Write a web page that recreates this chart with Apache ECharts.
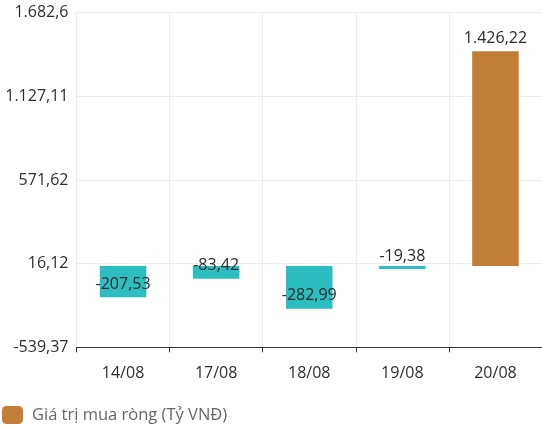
<!DOCTYPE html>
<html>
<head>
<meta charset="utf-8">
<script src="https://cdn.jsdelivr.net/npm/echarts@6/dist/echarts.min.js"></script>
<style>html,body{margin:0;padding:0;background:#fff}#c{width:542px;height:428px}</style>
</head>
<body>
<div id="c"></div>
<script>
const categories = ['14/08', '17/08', '18/08', '19/08', '20/08'];
const values = [-207.53, -83.42, -282.99, -19.38, 1426.22];
const yTicks = [-539.37, 16.12, 571.62, 1127.11, 1682.6];
const seriesName = 'Giá trị mua ròng (Tỷ VNĐ)';

const POS = '#c07e36', NEG = '#2cbdc0';
const FONT = '"Open Sans", "Noto Sans", sans-serif';

function vn(v) {
  const neg = v < 0;
  let s = Math.abs(v).toFixed(2).replace(/0+$/, '').replace(/\.$/, '');
  let parts = s.split('.');
  let i = parts[0].replace(/\B(?=(\d{3})+(?!\d))/g, '.');
  return (neg ? '-' : '') + i + (parts[1] ? ',' + parts[1] : '');
}

const data = values.map(v => ({
  value: v,
  itemStyle: { color: v < 0 ? NEG : POS },
  label: { position: v < 0 ? 'insideBottom' : 'top' }
}));

const chart = echarts.init(document.getElementById('c'), null, { renderer: 'canvas' });
chart.setOption({
  animation: false,
  textStyle: { fontFamily: FONT },
  grid: { left: 76.5, right: -2.5, top: 12.7, bottom: 80.7 },
  legend: {
    left: -3, top: 401,
    itemWidth: 21, itemHeight: 18,
    icon: 'roundRect',
    textStyle: { fontFamily: FONT, fontSize: 16.5, color: '#666', padding: [0, 0, 0, 4] },
    data: [seriesName]
  },
  xAxis: {
    type: 'category',
    data: categories,
    axisLine: { onZero: false, lineStyle: { color: '#333', width: 1 } },
    axisTick: { show: true, length: 5, lineStyle: { color: '#333' } },
    axisLabel: { fontFamily: FONT, fontSize: 16, color: '#2f2f2f', margin: 18 },
    splitLine: { show: true, lineStyle: { color: '#ececec' } }
  },
  yAxis: {
    type: 'value',
    min: yTicks[0],
    max: yTicks[yTicks.length - 1],
    axisLine: { show: false },
    axisTick: { show: false, customValues: yTicks },
    axisLabel: { customValues: yTicks, formatter: vn, fontFamily: FONT, fontSize: 16, color: '#2f2f2f', margin: 8 },
    splitLine: { show: true, lineStyle: { color: '#ececec' } }
  },
  series: [{
    name: seriesName,
    type: 'bar',
    barWidth: '50%',
    itemStyle: { color: POS },
    label: {
      show: true,
      fontFamily: FONT, fontSize: 16, color: '#2a2a2a',
      distance: 5,
      formatter: p => vn(p.value)
    },
    data: data
  }]
});
</script>
</body>
</html>
